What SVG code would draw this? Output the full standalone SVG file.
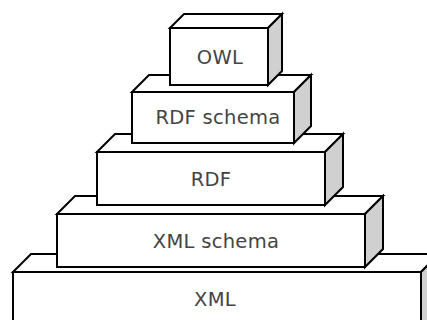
<svg xmlns="http://www.w3.org/2000/svg" width="427" height="320" viewBox="0 0 427 320">
  <style>
    .front { fill: #ffffff; stroke: #000000; stroke-width: 2; }
    .top { fill: #ffffff; stroke: #000000; stroke-width: 2; stroke-linejoin: miter; }
    .side { fill: #d0d0d0; stroke: #000000; stroke-width: 2; stroke-linejoin: miter; }
    .label { font-family: "DejaVu Sans", "Liberation Sans", sans-serif; font-size: 19.5px; letter-spacing: 0.3px; fill: #444444; text-anchor: middle; dominant-baseline: central; }
  </style>
  <rect width="427" height="320" fill="#ffffff"/>

  <!-- layers drawn bottom-up so each block sits on the one below -->
  <g id="xml">
    <polygon class="top" points="13,272 31,254 439,254 421,272"/>
    <polygon class="side" points="421,272 439,254 439,314 421,332"/>
    <rect class="front" x="13" y="272" width="408" height="60"/>
    <text class="label" x="215" y="299">XML</text>
  </g>

  <g id="xml-schema">
    <polygon class="top" points="57,214 75,196 383,196 365,214"/>
    <polygon class="side" points="365,214 383,196 383,249 365,267"/>
    <rect class="front" x="57" y="214" width="308" height="53"/>
    <text class="label" x="216" y="241">XML schema</text>
  </g>

  <g id="rdf">
    <polygon class="top" points="97,152 115,134 343,134 325,152"/>
    <polygon class="side" points="325,152 343,134 343,187 325,205"/>
    <rect class="front" x="97" y="152" width="228" height="53"/>
    <text class="label" x="211" y="179">RDF</text>
  </g>

  <g id="rdf-schema">
    <polygon class="top" points="132,92 149,75 311,75 294,92"/>
    <polygon class="side" points="294,92 311,75 311,126 294,143"/>
    <rect class="front" x="132" y="92" width="162" height="51"/>
    <text class="label" x="218" y="117">RDF schema</text>
  </g>

  <g id="owl">
    <polygon class="top" points="170,28 184,14 282,14 268,28"/>
    <polygon class="side" points="268,28 282,14 282,71 268,85"/>
    <rect class="front" x="170" y="28" width="98" height="57"/>
    <text class="label" x="220" y="57">OWL</text>
  </g>

  <g id="connectors"/>
</svg>
